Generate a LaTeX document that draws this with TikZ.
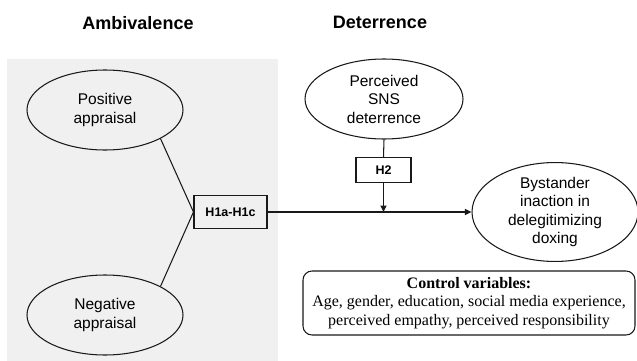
\documentclass[tikz,border=0pt]{standalone}
\usepackage{fontspec}
\setmainfont{Liberation Sans}
\newfontfamily\timesf{Liberation Serif}
\usetikzlibrary{shapes.geometric,arrows.meta}
\tikzset{
  every picture/.style={x=1pt,y=-1pt},
  ln/.style={line width=1.05pt,draw=black!90},
  var/.style={ellipse,ln,inner sep=0pt,align=center,font=\fontsize{15.5}{18.5}\selectfont},
  hyp/.style={rectangle,ln,inner sep=0pt,font=\bfseries\fontsize{12.5}{14}\selectfont},
  ttl/.style={font=\bfseries\fontsize{18}{20}\selectfont},
  arr/.style={ln,-{Triangle[length=6.5pt,width=6pt]}}
}
\begin{document}
\begin{tikzpicture}
\useasboundingbox (0,0) rectangle (637,361);
\fill[white] (0,0) rectangle (637,361);
\fill[black!6] (7,59) rectangle (278,361);
\node[ttl] (t1) at (138,23) {Ambivalence};
\node[ttl] (t2) at (380,22) {Deterrence};
\node[var,minimum width=156pt,minimum height=80pt] (pos) at (105,110) {Positive\\appraisal};
\node[var,minimum width=156pt,minimum height=80pt] (neg) at (105,315) {Negative\\appraisal};
\node[var,minimum width=158pt,minimum height=80pt] (sns) at (384,99) {Perceived\\SNS\\deterrence};
\node[var,minimum width=166pt,minimum height=90pt] (bys) at (555,212) {Bystander\\inaction in\\delegitimizing\\doxing};
\node[hyp,minimum width=73pt,minimum height=33pt] (h1) at (230.5,212) {H1a-H1c};
\node[hyp,minimum width=55pt,minimum height=25pt] (h2) at (383.5,170) {H2};
\coordinate (j) at (383.5,212);
\node[ln,rounded corners=9pt,minimum width=332pt,minimum height=64pt,align=center,inner sep=0pt,font=\timesf\fontsize{16}{18.5}\selectfont] (cv) at (469,303)
  {\textbf{Control variables:}\\Age, gender, education, social media experience,\\perceived empathy, perceived responsibility};
\draw[ln] (pos.south east) -- (h1.west);
\draw[ln] (neg.north east) -- (h1.west);
\draw[arr] (h1.east) -- (bys.west);
\draw[ln] (sns.south) -- (h2.north);
\draw[arr] (h2.south) -- (j);
\end{tikzpicture}
\end{document}
